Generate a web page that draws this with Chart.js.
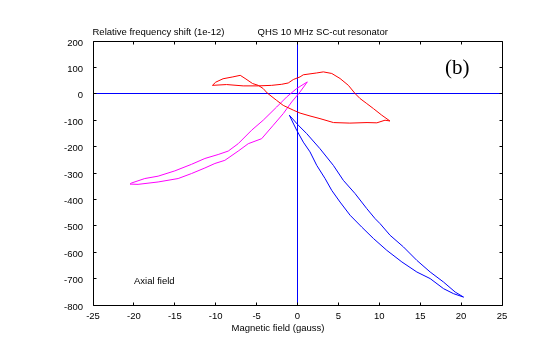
<!DOCTYPE html>
<html>
<head>
<meta charset="utf-8">
<script src="https://cdn.jsdelivr.net/npm/chart.js@4.4.1/dist/chart.umd.min.js"></script>
<style>
html,body{margin:0;padding:0;background:#fff;}
#c{display:block;}
</style>
</head>
<body>
<canvas id="c" width="540" height="355"></canvas>
<script>
// ---- tick labels ----
const xTicks = [-25, -20, -15, -10, -5, 0, 5, 10, 15, 20, 25];
const yTicks = [-800, -700, -600, -500, -400, -300, -200, -100, 0, 100, 200];

// ---- series: [field (gauss), relative frequency shift (1e-12)] ----
const redLoop = [
  [-10.4, 32], [-10.0, 44], [-9.1, 57], [-7.9, 64], [-7.0, 70], [-6.3, 56], [-5.5, 39],
  [-4.8, 32], [-4.2, 20], [-3.7, 3], [-2.55, -25], [-1.74, -44], [-0.51, -62],
  [0.31, -73], [1.53, -84], [2.75, -94], [4.4, -109], [6.4, -111], [8.5, -109],
  [9.7, -110], [10.7, -100], [11.3, -103],
  [10.3, -81], [9.28, -56], [8.47, -37], [7.65, -18], [7.04, 1], [6.22, 32],
  [5.2, 58], [4.19, 77], [3.16, 83], [2.35, 79], [0.71, 72], [0.31, 64],
  [-0.51, 54], [-1.13, 41], [-1.93, 36], [-3.16, 32], [-4.8, 30], [-6.64, 30],
  [-8.67, 35], [-10.4, 32]
];
const magentaLoop = [
  [-20.47, -342], [-20.3, -338], [-18.67, -321], [-17.04, -312], [-15.0, -292],
  [-12.95, -267], [-11.32, -245], [-9.7, -230], [-8.47, -217], [-7.25, -189],
  [-5.61, -138], [-4.19, -100], [-2.55, -50], [-1.32, -12], [-0.1, 20], [1.2, 45],
  [0.31, 7], [-0.71, -31], [-1.74, -75], [-2.96, -119], [-4.38, -170],
  [-6.02, -189], [-7.25, -217], [-8.88, -252], [-10.1, -264], [-11.32, -281],
  [-12.95, -302], [-14.59, -321], [-17.04, -334], [-19.49, -343], [-20.47, -342]
];
const blueLoop = [
  [-1.0, -81], [-0.1, -138], [0.71, -183], [1.53, -220], [2.35, -271], [3.37, -321],
  [4.19, -366], [5.2, -410], [6.43, -460], [7.86, -505], [9.28, -548], [10.92, -593],
  [12.76, -637], [14.59, -675], [16.22, -700], [17.85, -738], [19.07, -757], [20.3, -770],
  [19.28, -751], [17.85, -713], [16.22, -675], [14.59, -631], [12.95, -580],
  [11.32, -536], [10.1, -492], [9.49, -473], [8.47, -435], [7.04, -378], [5.61, -328],
  [4.38, -271], [2.75, -208], [1.13, -151], [0.1, -119], [-1.0, -81]
];

const toXY = arr => arr.map(p => ({x: p[0], y: p[1]}));
const FONT = '"Liberation Sans", Arial, sans-serif';
const AXBLUE = '#0000ff';

const decor = {
  id: 'decor',
  beforeDatasetsDraw(chart) {
    const {ctx, chartArea: a, scales: {x, y}} = chart;
    ctx.save();
    ctx.strokeStyle = AXBLUE;
    ctx.lineWidth = 1;
    const x0 = Math.floor(x.getPixelForValue(0)) + 0.5;
    const y0 = Math.floor(y.getPixelForValue(0)) + 0.5;
    ctx.beginPath();
    ctx.moveTo(x0, a.top); ctx.lineTo(x0, a.bottom);
    ctx.moveTo(a.left, y0); ctx.lineTo(a.right, y0);
    ctx.stroke();
    ctx.restore();
  },
  afterDraw(chart) {
    const {ctx, chartArea: a, scales: {x, y}} = chart;
    ctx.save();
    ctx.strokeStyle = '#000';
    ctx.lineWidth = 1;
    const L = Math.round(a.left) + 0.5, R = Math.round(a.right) + 0.5;
    const T = Math.round(a.top) + 0.5, B = Math.round(a.bottom) + 0.5;
    ctx.beginPath();
    ctx.moveTo(L, T); ctx.lineTo(R, T); ctx.lineTo(R, B); ctx.lineTo(L, B); ctx.closePath();
    x.ticks.forEach(t => {
      const px = Math.floor(x.getPixelForValue(t.value)) + 0.5;
      ctx.moveTo(px, B); ctx.lineTo(px, B - 3);
      ctx.moveTo(px, T); ctx.lineTo(px, T + 3);
    });
    y.ticks.forEach(t => {
      const py = Math.floor(y.getPixelForValue(t.value)) + 0.5;
      ctx.moveTo(L, py); ctx.lineTo(L + 3, py);
      ctx.moveTo(R, py); ctx.lineTo(R - 3, py);
    });
    ctx.stroke();

    ctx.fillStyle = '#000';
    ctx.textBaseline = 'middle';
    ctx.font = '9.5px ' + FONT;
    ctx.textAlign = 'left';
    ctx.fillText('Relative frequency shift (1e-12)', 92.5, 32.5);
    ctx.fillText('QHS 10 MHz SC-cut resonator', 257.5, 32.5);
    ctx.fillText('Axial field', 134, 281);
    ctx.textAlign = 'center';
    ctx.fillText('Magnetic field (gauss)', 278, 328.5);
    ctx.textAlign = 'left';
    ctx.font = '21px "Liberation Serif", "Times New Roman", serif';
    ctx.fillText('(b)', 445, 68);
    ctx.restore();
  }
};

const lineDs = (data, color) => ({
  data: toXY(data),
  showLine: true,
  borderColor: color,
  backgroundColor: color,
  borderWidth: 1,
  pointRadius: 0,
  tension: 0,
  fill: false
});

new Chart(document.getElementById('c'), {
  type: 'scatter',
  data: {
    datasets: [
      lineDs(redLoop, '#ff0000'),
      lineDs(magentaLoop, '#ff00ff'),
      lineDs(blueLoop, '#0000ff')
    ]
  },
  options: {
    responsive: false,
    animation: false,
    devicePixelRatio: 1,
    layout: {padding: {top: 41, right: 38, left: 0, bottom: 0}},
    plugins: {legend: {display: false}, tooltip: {enabled: false}},
    scales: {
      x: {
        type: 'linear', min: -25, max: 25,
        afterBuildTicks: s => { s.ticks = xTicks.map(v => ({value: v})); },
        afterFit: s => { s.height = 50; },
        grid: {display: false, drawTicks: false},
        border: {display: false},
        ticks: {color: '#000', font: {family: FONT, size: 9.5}, padding: 6, maxRotation: 0, autoSkip: false}
      },
      y: {
        type: 'linear', min: -800, max: 200,
        afterBuildTicks: s => { s.ticks = yTicks.map(v => ({value: v})); },
        afterFit: s => { s.width = 93; },
        grid: {display: false, drawTicks: false},
        border: {display: false},
        ticks: {color: '#000', font: {family: FONT, size: 9.5}, padding: 10, labelOffset: 2, autoSkip: false}
      }
    }
  },
  plugins: [decor]
});
</script>
</body>
</html>
